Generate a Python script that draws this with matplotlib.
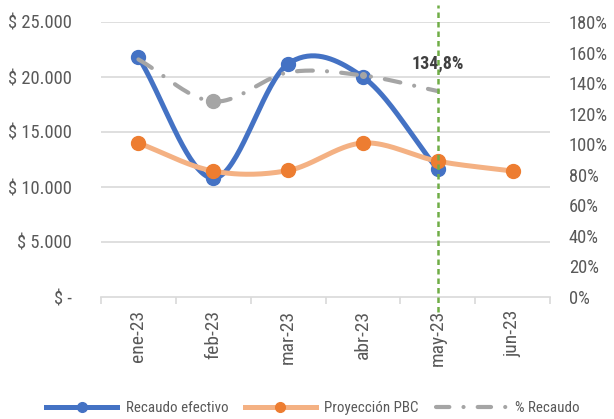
import numpy as np
import matplotlib
matplotlib.use("Agg")
import matplotlib.pyplot as plt
from matplotlib.lines import Line2D

# ---- data ----
months = ["ene-23", "feb-23", "mar-23", "abr-23", "may-23", "jun-23"]
recaudo = [21800, 10800, 21200, 20000, 11600]
proyeccion = [14000, 11450, 11500, 14000, 12350, 11450]
pct_recaudo = [1.555, 1.28, 1.47, 1.45, 1.348]
y_ticks = [0, 5000, 10000, 15000, 20000, 25000]
y_labels = ["$ -", "$ 5.000", "$ 10.000", "$ 15.000", "$ 20.000", "$ 25.000"]
pct_ticks = [0, 0.2, 0.4, 0.6, 0.8, 1.0, 1.2, 1.4, 1.6, 1.8]
pct_labels = ["0%", "20%", "40%", "60%", "80%", "100%", "120%", "140%", "160%", "180%"]
label_text = "134,8%"
label_idx = 4

plt.rcParams["font.family"] = ["Roboto Condensed", "Liberation Sans", "DejaVu Sans"]
fs = 13.3

BLUE = "#4472C4"
ORANGE = "#ED7D31"
ORANGE_L = "#F4B183"
GRAY = "#A5A5A5"
GREEN = "#70AD47"
TXT = "#595959"


def smooth(y, n=40):
    y = np.asarray(y, float)
    x = np.arange(len(y), dtype=float)
    xs, ys = [], []
    for i in range(len(y) - 1):
        p0 = y[i - 1] if i > 0 else y[i]
        p3 = y[i + 2] if i + 2 < len(y) else y[i + 1]
        p1, p2 = y[i], y[i + 1]
        m1 = (p2 - p0) / (2 if i > 0 else 1)
        m2 = (p3 - p1) / (2 if i + 2 < len(y) else 1)
        t = np.linspace(0, 1, n)
        h00 = 2 * t**3 - 3 * t**2 + 1
        h10 = t**3 - 2 * t**2 + t
        h01 = -2 * t**3 + 3 * t**2
        h11 = t**3 - t**2
        xs.append(x[i] + t)
        ys.append(h00 * p1 + h10 * m1 + h01 * p2 + h11 * m2)
    return np.concatenate(xs), np.concatenate(ys)


fig = plt.figure(figsize=(6.14, 4.19), dpi=100)
ax = fig.add_axes([101 / 614, 1 - 297 / 419, 449 / 614, 275 / 419])
ax2 = ax.twinx()

ax.set_xlim(-0.5, len(months) - 0.5)
ax.set_ylim(0, 25000)
ax2.set_ylim(0, 1.8)

# grid
for v in y_ticks[1:]:
    ax.axhline(v, color="#D9D9D9", lw=1.2, zorder=0)

for a in (ax, ax2):
    for s in ["top", "right", "left"]:
        a.spines[s].set_visible(False)
ax.spines["bottom"].set_color("#D9D9D9")
ax.spines["bottom"].set_linewidth(1.2)
ax2.spines["bottom"].set_visible(False)

# series
xb, yb = smooth(recaudo)
ax.plot(xb, yb, color=BLUE, lw=3.6, solid_capstyle="round", zorder=2)
ax.plot(range(len(recaudo)), recaudo, "o", color=BLUE, ms=10, zorder=2)

xo, yo = smooth(proyeccion)
ax.plot(xo, yo, color=ORANGE_L, lw=3.6, solid_capstyle="round", zorder=3)
ax.plot(range(len(proyeccion)), proyeccion, "o", color=ORANGE, ms=10, zorder=3)

ax2.set_zorder(ax.get_zorder() + 1)
ax2.patch.set_visible(False)
xg, yg = smooth(pct_recaudo)
ax2.plot(xg, yg, color=GRAY, lw=3.0, dashes=(3.8, 3.4, 0.01, 3.4),
         dash_capstyle="round", zorder=4)
ax2.plot([1], [pct_recaudo[1]], "o", color=GRAY, ms=10, zorder=4)
ax2.plot([3], [pct_recaudo[3]], "o", color=GRAY, ms=4, zorder=4)

ax2.annotate(label_text, (label_idx, pct_recaudo[label_idx]), xytext=(0, 20),
             textcoords="offset points", ha="center", va="center",
             fontsize=13, fontweight="bold", color="#404040", zorder=5)

ax2.axvline(label_idx, ymin=-0.055, ymax=1.062, color=GREEN, lw=1.8,
            dashes=(2.2, 1.6), clip_on=False, zorder=6)

# ticks
ax.set_yticks(y_ticks)
ax.set_yticklabels(y_labels)
ax2.set_yticks(pct_ticks)
ax2.set_yticklabels(pct_labels)
ax.tick_params(axis="y", length=0, pad=21, labelsize=fs, labelcolor=TXT)
ax2.tick_params(axis="y", length=0, pad=13.5, labelsize=fs, labelcolor=TXT)
ax.set_xticks(range(len(months)))
ax.set_xticklabels(months, rotation=90)
ax.set_xticks(np.arange(-0.5, len(months), 1.0), minor=True)
ax.tick_params(axis="x", which="major", length=0, pad=9, labelsize=14, labelcolor=TXT)
ax.tick_params(axis="x", which="minor", length=5, width=1.2, color="#D9D9D9")

handles = [
    Line2D([], [], color=BLUE, lw=3.6, marker="o", ms=7, markerfacecolor=BLUE),
    Line2D([], [], color=ORANGE_L, lw=3.6, marker="o", ms=7, markerfacecolor=ORANGE,
           markeredgecolor=ORANGE),
    Line2D([], [], color=GRAY, lw=3.0, dashes=(3.2, 3.4, 0.01, 3.4), dash_capstyle="round"),
]
fig.legend(handles, ["Recaudo efectivo", "Proyección PBC", "% Recaudo"],
           loc="center", bbox_to_anchor=(313 / 614, 1 - 408 / 419), ncol=3,
           frameon=False, fontsize=10.8, labelcolor=TXT, handlelength=4.7,
           handletextpad=0.6, columnspacing=1.1)

fig.savefig("out.png", dpi=100)
